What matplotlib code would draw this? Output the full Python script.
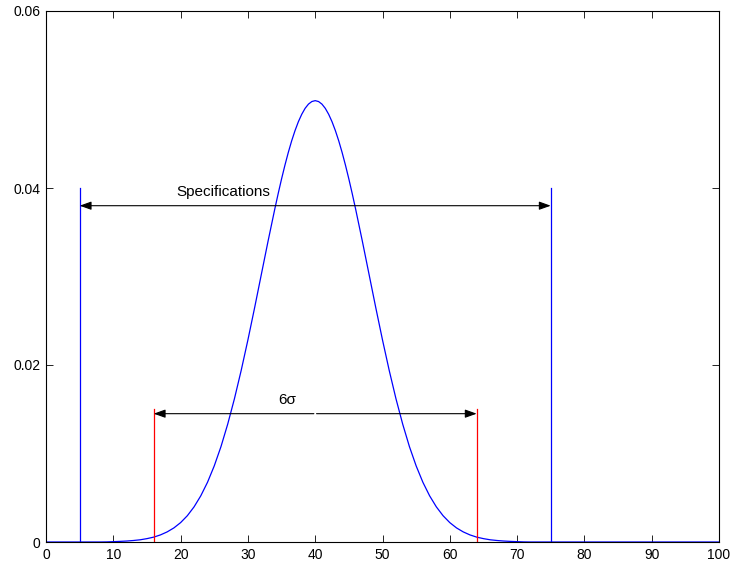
import matplotlib
matplotlib.use("Agg")
import matplotlib.pyplot as plt

plt.rcParams['font.family'] = ['Liberation Sans', 'DejaVu Sans']

# Curve values (x, density)
curve_x = [0, 8, 9, 10, 11, 12, 13, 14, 15, 16, 17, 18, 19, 20, 21, 22, 23, 24, 25, 26, 27, 28, 29,
           30, 31, 32, 33, 34, 34.5, 35, 35.5, 36, 36.5, 37, 37.5, 38, 38.5, 39, 39.5, 40,
           40.5, 41, 41.5, 42, 42.5, 43, 43.5, 44, 44.5, 45, 45.5, 46, 47, 48, 49,
           50, 51, 52, 53, 54, 55, 56, 57, 58, 59, 60, 61, 62, 63, 64, 65, 66, 67, 68, 69,
           70, 71, 72, 100]
curve_y = [0.0, 0.0, 0.00001, 0.00004, 0.00007, 0.00011, 0.00017, 0.00025, 0.00038, 0.00055,
           0.00080, 0.00114, 0.00159, 0.00219, 0.00297, 0.00397, 0.00522, 0.00675, 0.00860,
           0.01078, 0.01332, 0.01619, 0.01938, 0.02283, 0.02648, 0.03025, 0.03401, 0.03764,
           0.03937, 0.04102, 0.04257, 0.04401, 0.04532, 0.04648, 0.04749, 0.04833, 0.04900,
           0.04948, 0.04977, 0.04987, 0.04977, 0.04948, 0.04900, 0.04833, 0.04749, 0.04648,
           0.04532, 0.04401, 0.04257, 0.04102, 0.03937, 0.03764, 0.03401, 0.03025, 0.02648,
           0.02283, 0.01938, 0.01619, 0.01332, 0.01078, 0.00860, 0.00675, 0.00522, 0.00397,
           0.00297, 0.00219, 0.00159, 0.00114, 0.00080, 0.00055, 0.00038, 0.00025, 0.00017,
           0.00011, 0.00007, 0.00004, 0.00001, 0.0, 0.0]

spec_limits = [5, 75]
spec_height = 0.04
spec_arrow_y = 0.038
spec_label = "Specifications"
spec_label_pos = (26.4, 0.0395)

sigma_limits = [16, 64]
sigma_height = 0.015
sigma_arrow_y = 0.0145
sigma_mid = 40
sigma_label = "6σ"
sigma_label_pos = (35.9, 0.016)

xticks = [0, 10, 20, 30, 40, 50, 60, 70, 80, 90, 100]
yticks = [0, 0.02, 0.04, 0.06]
ytick_labels = ["0", "0.02", "0.04", "0.06"]

fig = plt.figure(figsize=(7.32, 5.68), dpi=100)
ax = fig.add_axes([46/732, 1-542/568, (719-46)/732, (542-11)/568])

ax.plot(curve_x, curve_y, color='#0000ff', lw=0.9)
for xs in spec_limits:
    ax.plot([xs, xs], [0, spec_height], color='#0000ff', lw=0.9)
for xs in sigma_limits:
    ax.plot([xs, xs], [0, sigma_height], color='#ff0000', lw=0.9)

arrow_kw = dict(arrowstyle='-|>,head_length=0.7,head_width=0.25', color='black', lw=0.8,
                shrinkA=0, shrinkB=0)
ax.annotate('', xy=(spec_limits[0], spec_arrow_y), xytext=(spec_limits[1], spec_arrow_y),
            arrowprops=dict(arrowstyle='<|-|>,head_length=0.7,head_width=0.25', color='black',
                            lw=0.8, shrinkA=0, shrinkB=0))
ax.annotate('', xy=(sigma_limits[0], sigma_arrow_y), xytext=(sigma_mid - 0.2, sigma_arrow_y),
            arrowprops=arrow_kw)
ax.annotate('', xy=(sigma_limits[1], sigma_arrow_y), xytext=(sigma_mid + 0.2, sigma_arrow_y),
            arrowprops=arrow_kw)

ax.text(*spec_label_pos, spec_label, ha='center', va='center', fontsize=11)
ax.text(*sigma_label_pos, sigma_label, ha='center', va='center', fontsize=11)

ax.set_xlim(0, 100)
ax.set_ylim(0, 0.06)
ax.set_xticks(xticks)
ax.set_yticks(yticks)
ax.set_yticklabels(ytick_labels)
ax.tick_params(direction='in', top=True, right=True, labelsize=10, length=5, width=0.6, pad=4)
for s in ax.spines.values():
    s.set_linewidth(0.8)

fig.savefig('out.png', dpi=100)
